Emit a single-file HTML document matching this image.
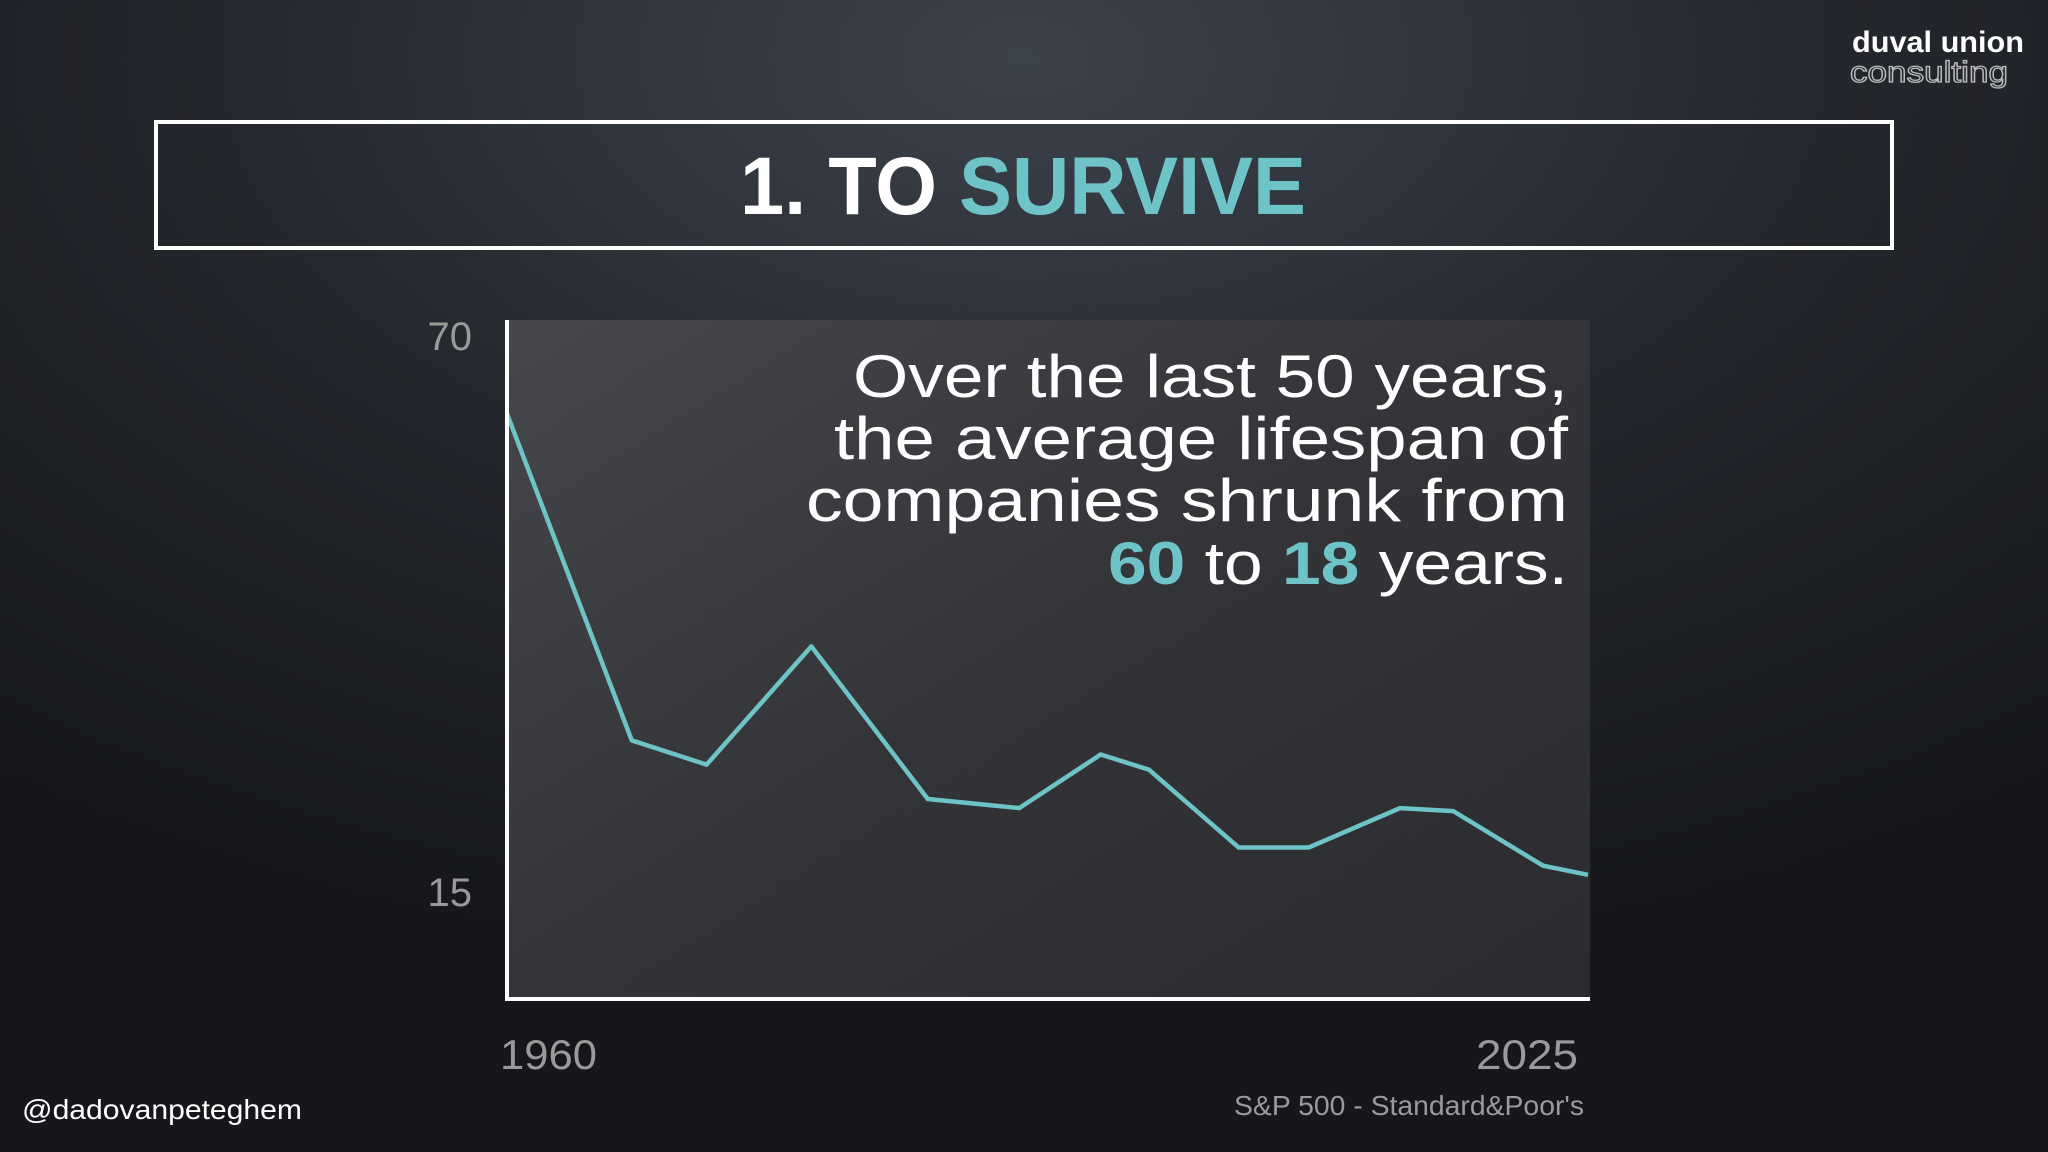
<!DOCTYPE html>
<html><head><meta charset="utf-8"><style>
html,body{margin:0;padding:0;width:2048px;height:1152px;overflow:hidden;background:#16181d}
svg{display:block}
text{font-family:"Liberation Sans","DejaVu Sans",sans-serif}
</style></head><body>
<svg width="2048" height="1152" viewBox="0 0 2048 1152">
<defs>
<radialGradient id="bg" cx="0.5" cy="0.05" r="0.8">
<stop offset="0" stop-color="#3d424b"/><stop offset="0.5" stop-color="#24272d"/><stop offset="1" stop-color="#15171b"/>
</radialGradient>
<linearGradient id="panel" x1="0" y1="0" x2="1" y2="1">
<stop offset="0" stop-color="#46474c"/><stop offset="0.5" stop-color="#333438"/><stop offset="1" stop-color="#2b2c30"/>
</linearGradient>
</defs>
<rect width="2048" height="1152" fill="url(#bg)"/>
<g>
<text x="2024" y="52" text-anchor="end" font-size="30" font-weight="bold" fill="#fff" textLength="172" lengthAdjust="spacingAndGlyphs">duval union</text>
<text x="2008" y="82" text-anchor="end" font-size="30" fill="none" stroke="#bbb" stroke-width="1.3" textLength="158" lengthAdjust="spacingAndGlyphs">consulting</text>
</g>
<rect x="156" y="122" width="1736" height="126" fill="none" stroke="#fff" stroke-width="4"/>
<text x="740" y="214" font-size="82" font-weight="bold" fill="#fff" textLength="566" lengthAdjust="spacingAndGlyphs">1. TO <tspan fill="#6ec3c6">SURVIVE</tspan></text>
<rect x="505" y="320" width="1085" height="679" fill="url(#panel)"/>
<g id="chart"></g>
<g font-size="60" fill="#fff">
<text x="853" y="397" textLength="715" lengthAdjust="spacingAndGlyphs">Over the last 50 years,</text>
<text x="834" y="459" textLength="734" lengthAdjust="spacingAndGlyphs">the average lifespan of</text>
<text x="806" y="521" textLength="762" lengthAdjust="spacingAndGlyphs">companies shrunk from</text>
<text x="1108" y="584" textLength="460" lengthAdjust="spacingAndGlyphs"><tspan fill="#6ec3c6" font-weight="bold">60</tspan> to <tspan fill="#6ec3c6" font-weight="bold">18</tspan> years.</text>
</g>
<text x="22" y="1119" font-size="28" fill="#fff" textLength="280" lengthAdjust="spacingAndGlyphs">@dadovanpeteghem</text>
<text x="1234" y="1115" font-size="28" fill="#9a9a9a" textLength="350" lengthAdjust="spacingAndGlyphs">S&amp;P 500 - Standard&amp;Poor's</text>
</svg>
<script>
const years=[1960,1967.5,1972,1978.3,1985.3,1990.8,1995.7,1998.6,2004,2008.2,2013.7,2016.9,2022.3,2025];
const lifespan=[62.3,30.0,27.6,39.3,24.2,23.3,28.6,27.1,19.4,19.4,23.3,23.0,17.6,16.7];
const yTicks=[70,15];
const xTicks=[1960,2025];
const NS="http://www.w3.org/2000/svg";
const g=document.getElementById('chart');
const X=v=>507+(v-1960)*(1588-507)/65;
const Y=v=>336+(70-v)*(892-336)/55;
function mk(t,a){const e=document.createElementNS(NS,t);for(const k in a)e.setAttribute(k,a[k]);g.appendChild(e);return e;}
const line=mk('polyline',{points:years.map((y,i)=>X(y)+','+Y(lifespan[i])).join(' '),fill:'none',stroke:'#6ec3c6','stroke-width':4.5,'stroke-linejoin':'round'});


const ax=mk('polyline',{points:'507,320 507,999 1590,999',fill:'none',stroke:'#fff','stroke-width':4});


yTicks.forEach(v=>{const t=mk('text',{x:472,y:Y(v)+14,'text-anchor':'end','font-size':40,fill:'#9a9a9a'});t.textContent=v;

});
xTicks.forEach((v,i)=>{const t=mk('text',{x:i==0?X(v)-7:X(v)-10,y:1069,'text-anchor':i==0?'start':'end','font-size':42,fill:'#9a9a9a',textLength:i==0?97:102,lengthAdjust:'spacingAndGlyphs'});t.textContent=v;

});
</script>
</body></html>
